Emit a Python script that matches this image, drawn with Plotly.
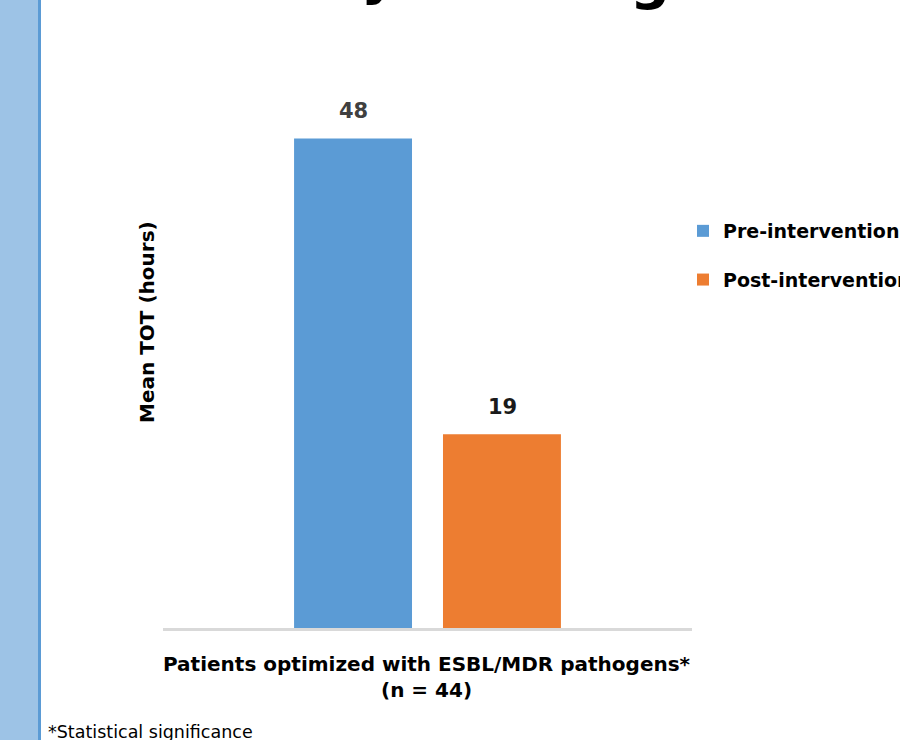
import plotly.graph_objects as go

# Mean time to optimal therapy, before vs after the intervention
category = ["Patients optimized with ESBL/MDR pathogens*"]
series_names = ["Pre-intervention", "Post-intervention"]
mean_tot_hours = [48, 19]
colors = ["#5B9BD5", "#ED7D31"]

W, H = 900, 740
L, R, T, B = 163, 208, 118, 112
PW, PH = W - L - R, H - T - B


def px(x):
    return (x - L) / PW


def py(y):
    return (H - B - y) / PH


FONT = "DejaVu Sans"

fig = go.Figure()
for name, val, col in zip(series_names, mean_tot_hours, colors):
    fig.add_trace(go.Bar(
        x=category, y=[val], name=f"<b>{name}</b>", marker_color=col,
        marker_line_width=0, legendgroup=name,
    ))

# value labels above each bar
offsets = [-74.5, 74.5]
label_colors = ["#404040", "#1a1a1a"]
for val, off, lc in zip(mean_tot_hours, offsets, label_colors):
    fig.add_annotation(
        x=category[0], y=val, xref="x", yref="y", text=f"<b>{val}</b>",
        showarrow=False, xshift=off, xanchor="center", yanchor="bottom",
        yshift=13, font=dict(family=FONT, size=21, color=lc),
    )

# axis titles and footnote
fig.add_annotation(
    x=px(147), y=py(322), xref="paper", yref="paper",
    xanchor="center", yanchor="middle",
    text="<b>Mean TOT (hours)</b>", textangle=-90, showarrow=False,
    font=dict(family=FONT, size=20, color="#000000"),
)
fig.add_annotation(
    x=px(427), y=py(677), xref="paper", yref="paper",
    xanchor="center", yanchor="middle",
    text="<b>Patients optimized with ESBL/MDR pathogens*</b><br><b>(n = 44)</b>",
    showarrow=False, align="center",
    font=dict(family=FONT, size=20, color="#000000"),
)
fig.add_annotation(
    x=px(46), y=py(732), xref="paper", yref="paper",
    xanchor="left", yanchor="middle",
    text="*Statistical significance", showarrow=False,
    font=dict(family=FONT, size=17.5, color="#000000"),
)

# fragments of the slide heading above the chart
for ch, cx, top in [("y", 379, -61), ("g", 650, -56)]:
    fig.add_annotation(
        x=px(cx), y=py(top), xref="paper", yref="paper", text=f"<b>{ch}</b>",
        xanchor="center", yanchor="top", showarrow=False,
        font=dict(family=FONT, size=56, color="#000000"),
    )

# slide side band
fig.add_shape(type="rect", xref="paper", yref="paper",
              x0=px(0), x1=px(38), y0=py(H), y1=py(0),
              fillcolor="#9DC3E6", line_width=0, layer="below")
fig.add_shape(type="rect", xref="paper", yref="paper",
              x0=px(38), x1=px(41), y0=py(H), y1=py(0),
              fillcolor="#5B9BD5", line_width=0, layer="below")

fig.update_layout(
    width=W, height=H,
    margin=dict(l=L, r=R, t=T, b=B, autoexpand=False),
    paper_bgcolor="white", plot_bgcolor="white",
    barmode="group", bargap=0.437, bargroupgap=0.208,
    showlegend=True,
    legend=dict(
        x=px(683), y=py(212), xanchor="left", yanchor="top",
        font=dict(family=FONT, size=19, color="#000000"),
        traceorder="grouped", tracegroupgap=21,
        itemclick=False, bgcolor="rgba(0,0,0,0)",
    ),
    xaxis=dict(showline=True, linecolor="#D9D9D9", linewidth=2.5,
               showticklabels=False, ticks="", showgrid=False, zeroline=False),
    yaxis=dict(range=[0, 50], visible=False, showgrid=False, zeroline=False),
)

fig.write_html("out.html")
